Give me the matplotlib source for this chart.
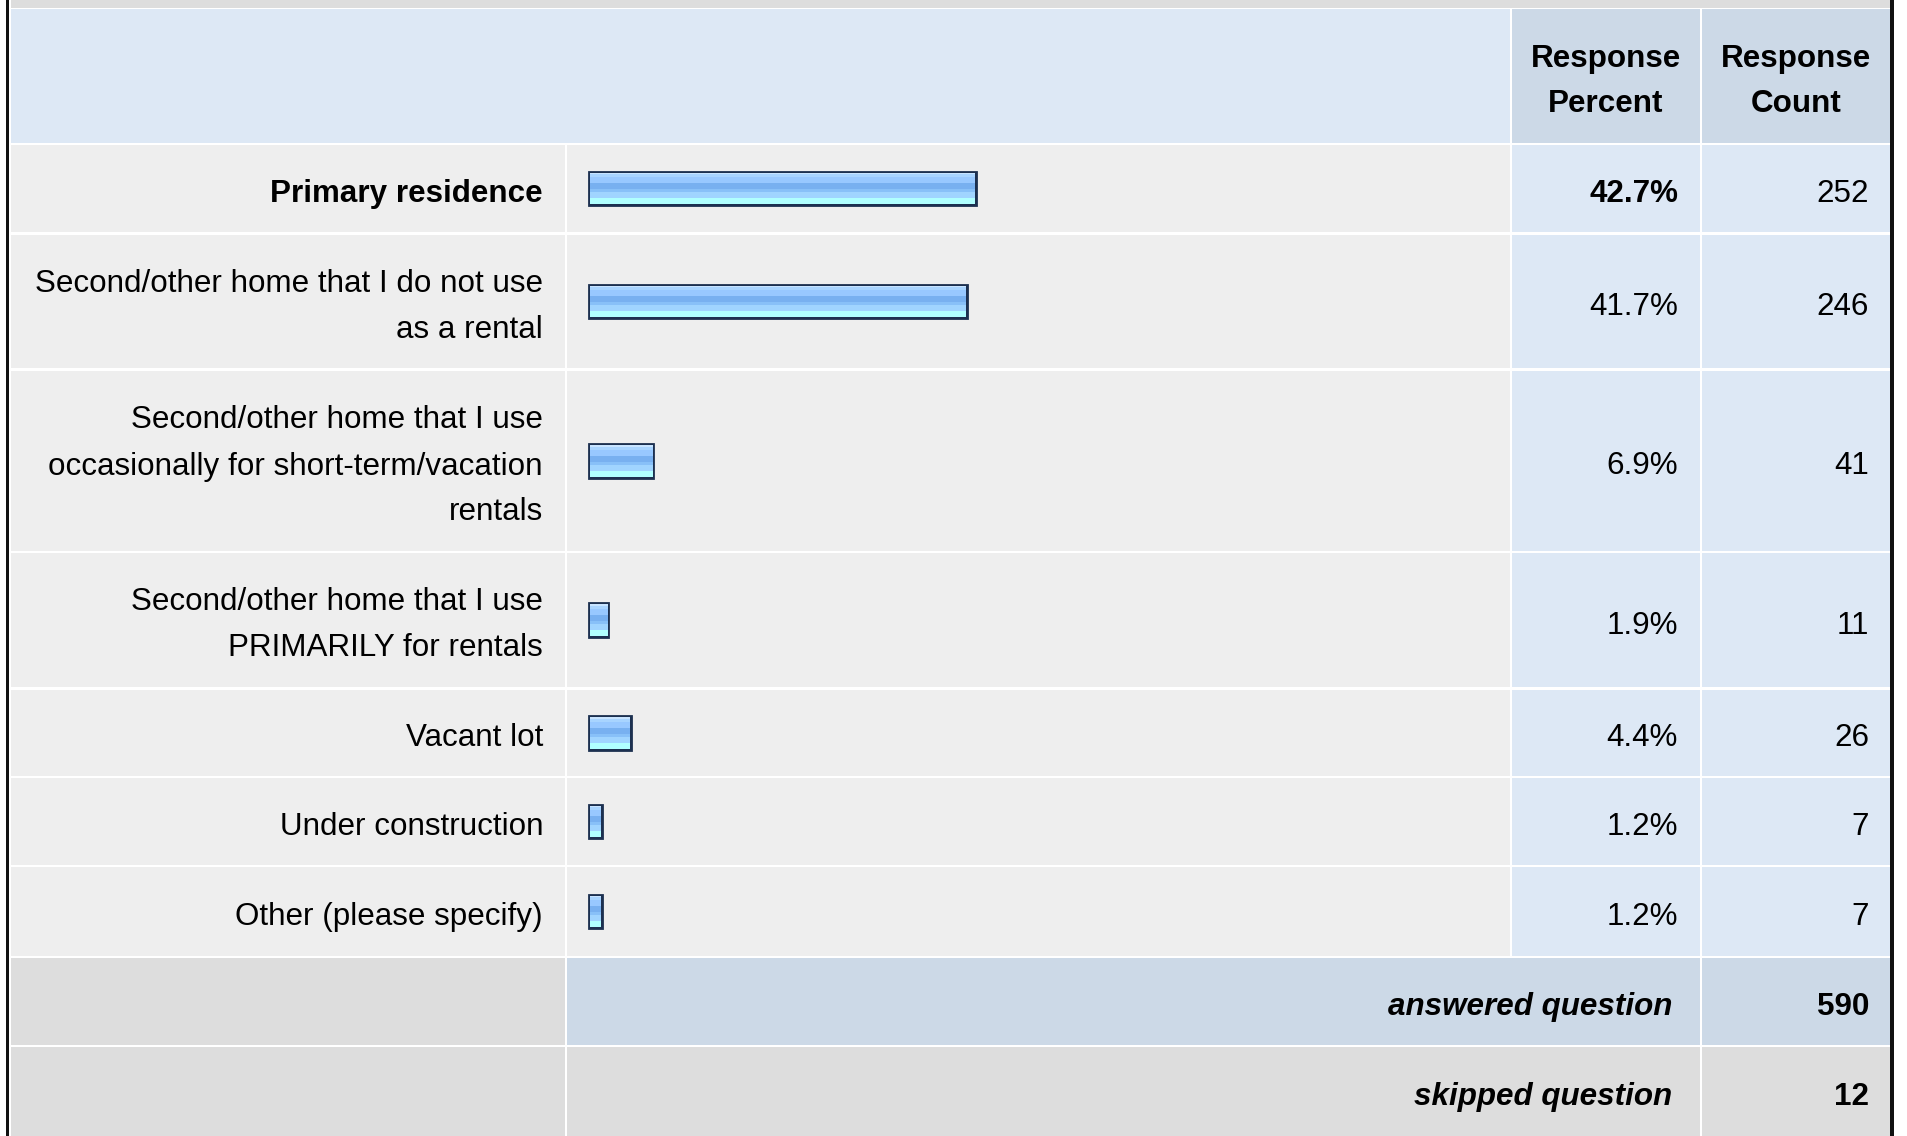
import matplotlib.pyplot as plt
import numpy as np
from matplotlib.patches import Rectangle

plt.rcParams['font.family'] = ['Liberation Sans', 'DejaVu Sans']

labels = ['Primary residence',
          'Second/other home that I do not use\nas a rental',
          'Second/other home that I use\noccasionally for short-term/vacation\nrentals',
          'Second/other home that I use\nPRIMARILY for rentals',
          'Vacant lot',
          'Under construction',
          'Other (please specify)']
percents = [42.7, 41.7, 6.9, 1.9, 4.4, 1.2, 1.2]
counts = [252, 246, 41, 11, 26, 7, 7]
header_pct = 'Response\nPercent'
header_cnt = 'Response\nCount'
answered = 590
skipped = 12

# layout in pixels
W, H = 1907, 1136
row_top = [145, 235, 371, 553, 690, 778, 867]
row_bot = [232, 368, 551, 687, 776, 865, 956]
lab_x = (11, 565)
bar_x = (567, 1510)
pct_x = (1512, 1700)
cnt_x = (1702, 1890)
px_per_pct = 9.0
bar_left = 590.4
bar_h = 31.2

GRAY = '#eeeeee'
BLUE = '#dde8f5'
BLUE2 = '#ccd9e7'
GRAY2 = '#dddddd'
FS = 22.6
PITCH = 46


def cell(ax, x0, x1, y0, y1, color):
    ax.add_patch(Rectangle((x0, y0), x1 - x0, y1 - y0, facecolor=color,
                           edgecolor='none', zorder=1))


def lines(ax, x, yc, text, ha, **kw):
    parts = text.split('\n')
    n = len(parts)
    for i, s in enumerate(parts):
        y = yc + 13.5 + (i - (n - 1) / 2) * PITCH
        ax.text(x, y, s, ha=ha, va='baseline', fontsize=FS, color='#000000',
                zorder=5, **kw)


fig = plt.figure(figsize=(W / 100, H / 100), dpi=100)
fig.patch.set_facecolor('white')
ax = fig.add_axes([0, 0, 1, 1])
ax.set_xlim(0, W)
ax.set_ylim(H, 0)
ax.axis('off')

# frame
cell(ax, 11, cnt_x[1], 0, 7.5, GRAY2)
ax.add_patch(Rectangle((6, 0), 3, H, facecolor='#111111', edgecolor='none', zorder=2))
ax.add_patch(Rectangle((1890, 0), 4, H, facecolor='#111111', edgecolor='none', zorder=2))

# header
cell(ax, 11, bar_x[1], 9, 143, BLUE)
cell(ax, pct_x[0], pct_x[1], 9, 143, BLUE2)
cell(ax, cnt_x[0], cnt_x[1], 9, 143, BLUE2)
lines(ax, sum(pct_x) / 2, 76, header_pct, 'center', fontweight='bold')
lines(ax, sum(cnt_x) / 2, 76, header_cnt, 'center', fontweight='bold')

# data rows
top_i = int(np.argmax(percents))
for i, (lab, p, c) in enumerate(zip(labels, percents, counts)):
    y0, y1 = row_top[i], row_bot[i]
    yc = (y0 + y1) / 2
    cell(ax, lab_x[0], lab_x[1], y0, y1, GRAY)
    cell(ax, bar_x[0], bar_x[1], y0, y1, GRAY)
    cell(ax, pct_x[0], pct_x[1], y0, y1, BLUE)
    cell(ax, cnt_x[0], cnt_x[1], y0, y1, BLUE)
    wt = 'bold' if i == top_i else 'normal'
    lines(ax, 543, yc, lab, 'right', fontweight=wt)
    lines(ax, 1678, yc, f'{p:.1f}%', 'right', fontweight=wt)
    lines(ax, 1869, yc, str(c), 'right')

# footer rows
cell(ax, lab_x[0], lab_x[1], 958, 1045, GRAY2)
cell(ax, bar_x[0], pct_x[1], 958, 1045, BLUE2)
cell(ax, cnt_x[0], cnt_x[1], 958, 1045, BLUE2)
cell(ax, lab_x[0], lab_x[1], 1047, H, GRAY2)
cell(ax, bar_x[0], pct_x[1], 1047, H, GRAY2)
cell(ax, cnt_x[0], cnt_x[1], 1047, H, GRAY2)
lines(ax, 1672, 1001.5, 'answered question', 'right', fontweight='bold', fontstyle='italic')
lines(ax, 1869, 1001.5, str(answered), 'right', fontweight='bold')
lines(ax, 1672, 1091.5, 'skipped question', 'right', fontweight='bold', fontstyle='italic')
lines(ax, 1869, 1091.5, str(skipped), 'right', fontweight='bold')

# bars on their own axes: x in percent, y in pixels
bx = fig.add_axes([0, 0, 1, 1])
bx.axis('off')
bx.patch.set_alpha(0)
centers = [(a + b) / 2 for a, b in zip(row_top, row_bot)]
# thick edge drawn first; gradient on top covers its inner half
bars = bx.barh(centers, percents, height=bar_h, color='none',
               edgecolor='#1c3050', linewidth=4.8 * 0.72, zorder=2)
stripes = ['#c8e4ff', '#c8e4ff', '#a8d4ff', '#a8d4ff', '#a8d4ff', '#98c8ff',
           '#98c8ff', '#98c8ff', '#98c8ff', '#98c8ff', '#78b0f0', '#78b0f0',
           '#78b0f0', '#78b0f0', '#78b0f0', '#78b0f0', '#88c0f8', '#88c0f8',
           '#88c0f8', '#a0d4ff', '#a0d4ff', '#a0d4ff', '#a0d4ff', '#a0d4ff',
           '#b0ffff', '#b0ffff', '#b0ffff', '#b0ffff', '#b0ffff', '#b0ffff']
grad = np.array([[plt.matplotlib.colors.to_rgb(s)] for s in stripes])
for b, c, p in zip(bars, centers, percents):
    im = bx.imshow(grad, extent=[0, p, c + bar_h / 2, c - bar_h / 2],
                   aspect='auto', interpolation='nearest', zorder=3)
    im.set_clip_path(b)
bx.set_xlim(-bar_left / px_per_pct, (W - bar_left) / px_per_pct)
bx.set_ylim(H, 0)

fig.savefig('out.png', dpi=100)
